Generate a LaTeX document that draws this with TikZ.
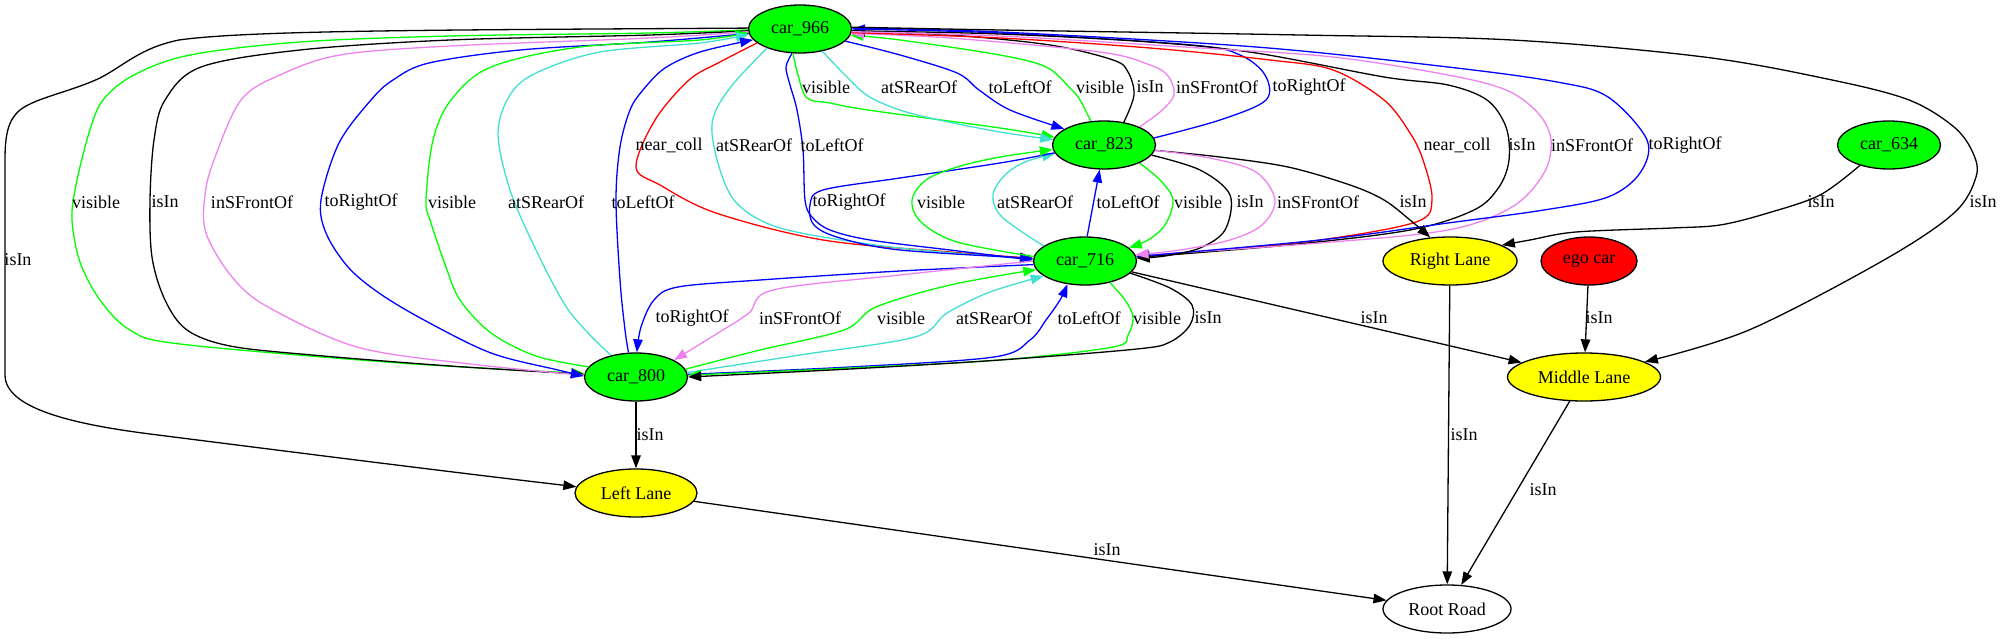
\documentclass[tikz,border=0pt]{standalone}
\usepackage{fontspec}
\setmainfont{Liberation Serif}
\usetikzlibrary{shapes.geometric,arrows.meta}
\definecolor{cgreen}{HTML}{00FF00}
\definecolor{cblue}{HTML}{0000FF}
\definecolor{cviolet}{HTML}{EE82EE}
\definecolor{cturq}{HTML}{40E0D0}
\definecolor{cred}{HTML}{FF0000}
\definecolor{cyellow}{HTML}{FFFF00}
\begin{document}
\begin{tikzpicture}[x=1pt,y=-1pt,
  nd/.style={ellipse,draw=black,line width=1.3pt,inner sep=0pt,minimum height=48pt,font=\fontsize{18}{21}\selectfont},
  car/.style={nd,fill=cgreen,minimum width=103pt},
  lane/.style={nd,fill=cyellow},
  lbl/.style={inner sep=0pt,font=\fontsize{18}{21}\selectfont},
  e/.style={line width=1.3pt,-{Triangle[length=13pt,width=9.5pt]}},
  sm/.style={smooth,tension=0.55}]
\useasboundingbox (0,0) rectangle (2004,639);
% nodes
\node[car] (c966) at (800,29) {car\_966};
\node[car] (c823) at (1104,145) {car\_823};
\node[car] (c716) at (1085,261) {car\_716};
\node[car] (c800) at (636,377) {car\_800};
\node[car] (c634) at (1889,145) {car\_634};
\node[lane,minimum width=134pt] (RL) at (1450,261) {Right Lane};
\node[nd,fill=cred,minimum width=96pt] (ego) at (1589,261) {ego car};
\node[lane,minimum width=153pt] (ML) at (1584,377) {Middle Lane};
\node[lane,minimum width=122pt] (LL) at (636,493) {Left Lane};
\node[nd,fill=white,minimum width=128pt] (RR) at (1447,609) {Root Road};

% far left isIn car_966 -> Left Lane
\draw[e,black] (c966.179) .. controls (450,30) and (250,30) .. (179,40) .. controls (140,48) and (125,65) .. (100,78) .. controls (70,92) and (35,98) .. (20,110) .. controls (8,120) and (5,135) .. (5,160) -- (5,375) .. controls (5,410) and (80,425) .. (150,434) .. controls (300,453) and (450,472) .. (LL.174);
% car_966 -> car_800
\draw[e,cgreen] plot[sm] coordinates {(c966.181) (650,33) (450,36) (300,42) (190,55) (134,75) (103,100) (89,133) (76,185) (72,220) (80,262) (100,300) (130,330) (180,344) (400,363) (c800.176)};
\draw[e,black] plot[sm] coordinates {(c966.182) (650,35) (450,40) (300,50) (201,67) (165,100) (154,140) (150,200) (152,257) (165,300) (187,330) (230,346) (312,355) (450,366) (c800.177)};
\draw[e,cviolet] plot[sm] coordinates {(c966.183) (650,38) (450,46) (340,55) (280,75) (241,100) (214,160) (205,195) (206,233) (232,277) (268,307) (357,347) (470,364) (c800.178)};
\draw[e,cblue] plot[sm] coordinates {(c966.185) (650,42) (520,50) (429,63) (393,80) (371,100) (339,143) (321,200) (326,233) (348,267) (379,293) (424,320) (491,353) (558,370) (c800.179)};
% car_800 -> car_966
\draw[e,cgreen] plot[sm] coordinates {(c800.168) (536,356) (491,333) (460,300) (446,267) (430,220) (426,200) (433,140) (451,100) (491,67) (580,47) (700,40) (c966.184)};
\draw[e,cturq] plot[sm] coordinates {(c800.139) (590,335) (565,305) (536,250) (510,190) (498,133) (510,95) (536,73) (600,52) (700,43) (c966.186)};
\draw[e,cblue] plot[sm] coordinates {(c800.107) (625,330) (620,280) (616,200) (620,147) (630,110) (643,90) (665,68) (700,52) (c966.193)};
% car_966 -> car_716 (left)
\draw[e,cred] plot[sm] coordinates {(c966.198) (720,62) (689,80) (655,120) (636,167) (660,185) (716,213) (823,240) (950,252) (c716.177)};
\draw[e,cturq] plot[sm] coordinates {(c966.210) (734,83) (716,110) (712,133) (720,170) (734,200) (760,220) (801,233) (900,248) (c716.178)};
\draw[e,cblue] plot[sm] coordinates {(c966.252) (786,67) (790,85) (797,110) (803,150) (805,200) (812,217) (830,230) (870,240) (950,250) (c716.179)};
% car_966 <-> car_823
\draw[e,cgreen] plot[sm] coordinates {(c966.254) (798,75) (807,98) (830,103) (868,110) (1000,128) (c823.171)};
\draw[e,cturq] plot[sm] coordinates {(c966.315) (845,75) (868,96) (900,110) (939,120) (1000,132) (c823.174)};
\draw[e,cblue] plot[sm] coordinates {(c966.345) (900,55) (957,73) (979,90) (1010,110) (c823.158)};
\draw[e,cgreen] plot[sm] coordinates {(c823.119) (1080,100) (1069,87) (1046,67) (1000,55) (900,40) (c966.353)};
\draw[e,black] plot[sm] coordinates {(c823.49) (1134,95) (1128,72) (1113,60) (1050,45) (950,35) (c966.357)};
\draw[e,cviolet] plot[sm] coordinates {(c823.27) (1160,112) (1174,95) (1168,76) (1150,65) (1100,52) (950,38) (c966.355)};
\draw[e,cblue] plot[sm] coordinates {(c823.8) (1220,120) (1266,100) (1265,75) (1240,55) (1192,45) (1000,33) (c966.0)};
% right loops car_966 -> car_716
\draw[e,cred] plot[sm] coordinates {(c966.356) (1000,38) (1150,48) (1270,60) (1333,70) (1384,100) (1410,133) (1423,160) (1432,200) (1416,222) (1320,240) (1200,252) (c716.5)};
\draw[e,black] plot[sm] coordinates {(c966.358) (1000,34) (1150,42) (1256,53) (1384,77) (1448,85) (1487,100) (1506,127) (1509,160) (1499,187) (1474,210) (1410,230) (1288,245) (c716.4)};
\draw[e,cviolet] plot[sm] coordinates {(c966.357) (1000,36) (1200,48) (1333,57) (1448,75) (1506,90) (1538,113) (1551,140) (1544,173) (1512,207) (1448,230) (1320,243) (c716.6)};
\draw[e,cblue] plot[sm] coordinates {(c966.1) (1000,32) (1256,47) (1448,67) (1557,82) (1608,97) (1647,140) (1640,173) (1608,197) (1544,210) (1448,223) (1320,240) (c716.5)};
% car_966 -> Middle Lane
\draw[e,black] plot[sm] coordinates {(c966.2) (1000,30) (1300,35) (1512,40) (1704,57) (1832,80) (1909,100) (1954,127) (1973,153) (1976,177) (1954,213) (1884,260) (1749,330) (ML.14)};
% lanes
\draw[e,black] plot[sm] coordinates {(c823.354) (1220,157) (1288,167) (1350,185) (1384,200) (1410,220) (RL.130)};
\draw[e,black] plot[sm] coordinates {(c634.215) (1820,195) (1768,213) (1720,225) (1672,228) (1576,232) (1530,240) (RL.17)};
\draw[e,black] (c716) -- (ML);
\draw[e,black] (ego) -- (ML);
\draw[e,black] (RL) -- (RR);
\draw[e,black] (ML) -- (RR);
\draw[e,black] (LL) -- (RR);
\draw[e,black] (c800) -- (LL);
% car_716 <-> car_823
\draw[e,cturq] plot[sm] coordinates {(c716.160) (1002,217) (993,195) (1005,175) (1025,162) (c823.190)};
\draw[e,cblue] (c716.85) -- (c823.260);
\draw[e,cgreen] plot[sm] coordinates {(c823.333) (1160,180) (1173,200) (1165,225) (1148,240) (c716.17)};
\draw[e,black] plot[sm] coordinates {(c823.348) (1200,170) (1230,195) (1225,230) (1200,248) (1165,256) (c716.3)};
\draw[e,cviolet] plot[sm] coordinates {(c823.354) (1210,158) (1256,172) (1275,200) (1262,225) (1230,240) (1180,250) (c716.7)};
\draw[e,cblue] plot[sm] coordinates {(c823.189) (1000,163) (900,178) (823,190) (810,205) (814,225) (840,238) (900,250) (c716.177)};
\draw[e,cgreen] plot[sm] coordinates {(c716.175) (957,242) (921,222) (912,200) (926,180) (957,167) (1000,157) (c823.185)};
% car_716 <-> car_800
\draw[e,cblue] plot[sm] coordinates {(c716.184) (900,271) (760,280) (678,287) (654,300) (641,327) (c800.88)};
\draw[e,cviolet] plot[sm] coordinates {(c716.180) (900,275) (773,290) (749,313) (718,333) (c800.24)};
\draw[e,cgreen] plot[sm] coordinates {(c800.9) (760,350) (844,330) (876,307) (950,285) (c716.190)};
\draw[e,cturq] plot[sm] coordinates {(c800.5) (800,355) (915,337) (947,313) (990,292) (c716.200)};
\draw[e,cblue] plot[sm] coordinates {(c800.3) (850,367) (994,357) (1030,340) (1046,320) (1060,300) (c716.233)};
\draw[e,cgreen] plot[sm] coordinates {(c716.319) (1125,300) (1133,317) (1128,335) (1113,347) (1000,360) (850,368) (c800.2)};
\draw[e,black] plot[sm] coordinates {(c716.345) (1170,288) (1192,305) (1190,325) (1170,342) (1137,349) (1000,360) (850,369) (c800.0)};

% labels row 87
\node[lbl] (t01) at (826,87) {visible};
\node[lbl] (t02) at (919,87) {atSRearOf};
\node[lbl] (t03) at (1020,87) {toLeftOf};
\node[lbl] (t04) at (1100,87) {visible};
\node[lbl] (t05) at (1150,87) {isIn};
\node[lbl] (t06) at (1217,87) {inSFrontOf};
\node[lbl] (t07) at (1309,87) {toRightOf};
% row 145
\node[lbl] (t08) at (669,145) {near\_coll};
\node[lbl] (t09) at (754,145) {atSRearOf};
\node[lbl] (t10) at (832,145) {toLeftOf};
\node[lbl] (t11) at (1457,145) {near\_coll};
\node[lbl] (t12) at (1522,145) {isIn};
\node[lbl] (t13) at (1592,145) {inSFrontOf};
\node[lbl] (t14) at (1685,145) {toRightOf};
% row 202
\node[lbl] (t15) at (96,202) {visible};
\node[lbl] (t16) at (165,202) {isIn};
\node[lbl] (t17) at (252,202) {inSFrontOf};
\node[lbl] (t18) at (361,202) {toRightOf};
\node[lbl] (t19) at (452,202) {visible};
\node[lbl] (t20) at (546,202) {atSRearOf};
\node[lbl] (t21) at (643,202) {toLeftOf};
\node[lbl] (t22) at (849,202) {toRightOf};
\node[lbl] (t23) at (941,202) {visible};
\node[lbl] (t24) at (1035,202) {atSRearOf};
\node[lbl] (t25) at (1128,202) {toLeftOf};
\node[lbl] (t26) at (1198,202) {visible};
\node[lbl] (t27) at (1250,202) {isIn};
\node[lbl] (t28) at (1318,202) {inSFrontOf};
\node[lbl] (t29) at (1413,202) {isIn};
\node[lbl] (t30) at (1821,202) {isIn};
\node[lbl] (t31) at (1983,202) {isIn};
\node[lbl] (t32) at (18,260) {isIn};
% row 318
\node[lbl] (t33) at (692,318) {toRightOf};
\node[lbl] (t34) at (800,318) {inSFrontOf};
\node[lbl] (t35) at (901,318) {visible};
\node[lbl] (t36) at (994,318) {atSRearOf};
\node[lbl] (t37) at (1089,318) {toLeftOf};
\node[lbl] (t38) at (1157,318) {visible};
\node[lbl] (t39) at (1208,318) {isIn};
\node[lbl] (t40) at (1374,318) {isIn};
\node[lbl] (t41) at (1599,318) {isIn};
% lower
\node[lbl] (t42) at (650,435) {isIn};
\node[lbl] (t43) at (1464,435) {isIn};
\node[lbl] (t44) at (1543,490) {isIn};
\node[lbl] (t45) at (1107,550) {isIn};
\end{tikzpicture}
\end{document}
